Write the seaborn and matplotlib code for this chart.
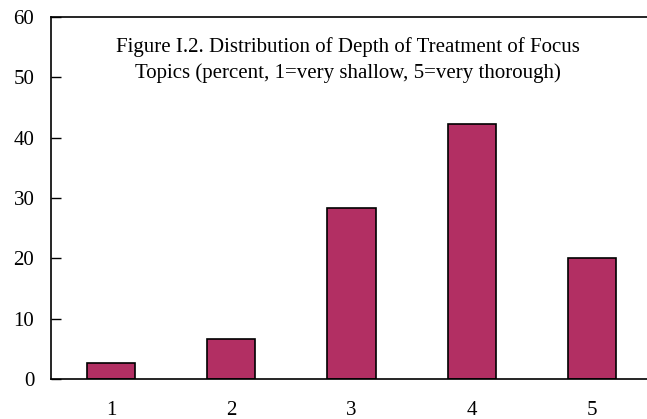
import matplotlib as mpl

mpl.use("Agg")
import matplotlib.pyplot as plt
import seaborn as sns
import pandas as pd

sns.set_style("white")
plt.rcParams["font.family"] = ["Liberation Serif", "DejaVu Serif"]
plt.rcParams["text.color"] = "black"
plt.rcParams["xtick.color"] = "black"
plt.rcParams["ytick.color"] = "black"

# depth of treatment (1=very shallow, 5=very thorough), percent
depth = ["1", "2", "3", "4", "5"]
percent = [2.7, 6.6, 28.3, 42.3, 20.1]

df = pd.DataFrame({"depth": depth, "percent": percent})

fig = plt.figure(figsize=(6.47, 4.19), dpi=100)
ax = fig.add_axes([51 / 647, 1 - 379 / 419, 601 / 647, 362 / 419])

sns.barplot(
    x="depth",
    y="percent",
    data=df,
    color="#B22F63",
    saturation=1,
    edgecolor="black",
    linewidth=1.2,
    width=0.4,
    ax=ax,
)

ax.set(ylim=(0, 60), yticks=range(0, 61, 10), xlabel="", ylabel="")
ax.tick_params(axis="y", direction="in", length=7, width=1, pad=12, labelsize=15, left=True)
ax.tick_params(axis="x", length=0, pad=16, labelsize=15)
for s in ["left", "bottom", "top"]:
    ax.spines[s].set_color("black")
    ax.spines[s].set_linewidth(1.2)
ax.spines["right"].set_visible(False)

fig.text(
    348 / 647,
    1 - 60 / 419,
    "Figure I.2. Distribution of Depth of Treatment of Focus\n"
    "Topics (percent, 1=very shallow, 5=very thorough)",
    ha="center",
    va="center",
    fontsize=15,
    linespacing=1.45,
)

fig.savefig("out.png", dpi=100)
